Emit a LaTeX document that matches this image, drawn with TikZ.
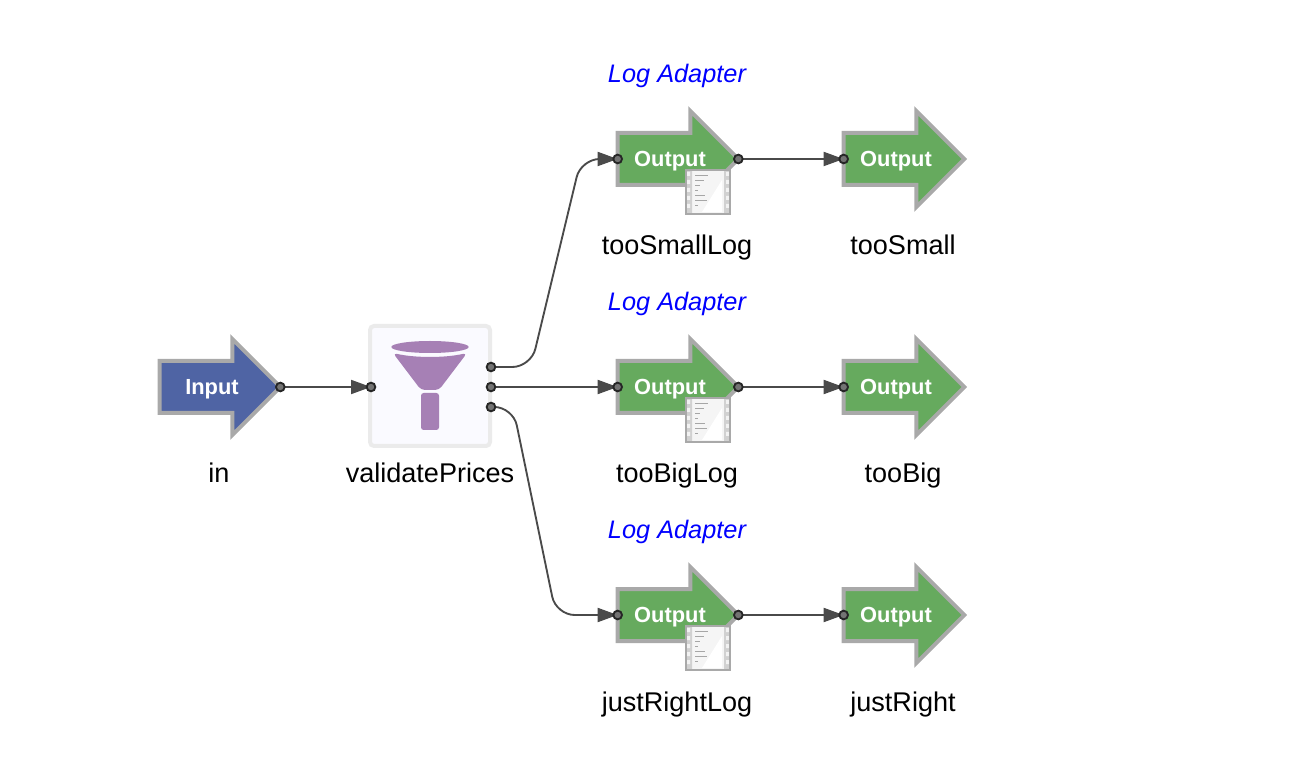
\documentclass[tikz,border=0pt]{standalone}
\usepackage{fontspec}
\setmainfont{Liberation Sans}
\usetikzlibrary{
  arrows.meta, % for the Triangle arrow tip
  shapes.arrows, % for the input/output arrows
  backgrounds, % to keep the connections under the ports
}
\definecolor{inblue}{HTML}{4F64A4}
\definecolor{outgreen}{HTML}{66AA5E}
\definecolor{rim}{HTML}{A9A9A9}
\definecolor{wire}{HTML}{4A4A4A}
\definecolor{funnel}{HTML}{A680B5}
\tikzset{
  endpoint/.style={ % style for the input/output arrows
    single arrow,draw=rim,line width=3pt,
    single arrow head extend=16.5pt,
    minimum height=90.5pt,minimum width=69pt,
    text=white,font=\fontsize{16.4}{16}\bfseries,
    inner sep=0pt,outer sep=0pt,
    text height=24pt,text depth=12pt,
    execute at begin node=\hspace*{7.5pt},
  },
  inend/.style={endpoint,fill=inblue},
  outend/.style={endpoint,fill=outgreen},
  port/.style={ % small connection points
    circle,draw=black!85,fill=black!55,line width=1.4pt,
    inner sep=0pt,minimum size=6.5pt,
  },
  conn/.style={ % style for the connections
    -{Triangle[length=15pt,width=10.5pt]},
    draw=wire,line width=1.4pt,
  },
  endname/.style={anchor=base,font=\fontsize{20.3}{20}\selectfont}, % text under each endpoint
  adapter/.style={font=\fontsize{19}{19}\itshape,text=blue}, % text over the log endpoints
  filterbox/.style={ % the filter with its funnel
    rectangle,rounded corners=3pt,draw=black!8,fill=blue!2,line width=3pt,
    minimum size=90pt,inner sep=0pt,
    path picture={
      \begin{scope}[shift={(path picture bounding box.center)}]
        \fill[funnel] (0,-39) ellipse [x radius=29pt,y radius=4.5pt];
        \fill[funnel] (-37,-33) .. controls (-15,-28) and (15,-28) .. (37,-33)
          -- (9,4) -- (-9,4) -- cycle;
        \fill[funnel,rounded corners=2pt] (-9,7) -- (9,7) -- (9,44) -- (-9,44) -- cycle;
      \end{scope}
    },
  },
  logicon/.style={ % the small film strip icon
    rectangle,draw=rim,fill=black!4,line width=1.5pt,
    minimum size=33pt,inner sep=0pt,
    path picture={
      \begin{scope}[shift={(path picture bounding box.center)}]
        \fill[black!18] (-23,-23) rectangle (-16,23) (16,-23) rectangle (23,23);
        \foreach \k in {-18,-10,...,18} {
          \fill[black!5] (-21,\k-2) rectangle (-18,\k+2) (18,\k-2) rectangle (21,\k+2);
        }
        \foreach \k/\w in {-17/13,-12/9,-7/5,-2/3,3/10,8/12,13/3} {
          \draw[black!35,line width=.6pt] (-13,\k) -- ++(\w,0);
        }
        \fill[white] (14,-12) -- (14,20) -- (-6,20) -- cycle;
      \end{scope}
    },
  },
}

\begin{document}
\begin{tikzpicture}[x=0.75pt,y=-0.75pt]
	\useasboundingbox (0,0) rectangle (1296,762);

	\node (in) [inend] at (207,387) {Input};
	\node (inOut) [port] at (in.tip) {};
	\node (inName) [endname] at (219,483) {in};

	\node (validatePrices) [filterbox] at (430,386) {};
	\node (validateIn) [port] at (371,387) {};
	\node (validateA) [port] at (491,367) {};
	\node (validateB) [port] at (491,387) {};
	\node (validateC) [port] at (491,407) {};
	\node (validateName) [endname] at (430,483) {validatePrices};

	\foreach \y/\nm/\lg in {159/tooSmall/tooSmallLog,387/tooBig/tooBigLog,615/justRight/justRightLog} {
		\node (\lg) [outend] at (665,\y) {Output};
		\node (\lg-icon) [logicon] at (708,\y+33) {};
		\node (\lg-in) [port] at (\lg.tail) {};
		\node (\lg-out) [port] at (\lg.tip) {};
		\node (\lg-adapter) [adapter] at (677,\y-83) {Log Adapter};
		\node (\lg-name) [endname] at (677,\y+96) {\lg};

		\node (\nm) [outend] at (891,\y) {Output};
		\node (\nm-in) [port] at (\nm.tail) {};
		\node (\nm-name) [endname] at (903,\y+96) {\nm};
	}

	\begin{pgfonlayer}{background}
		\draw [conn] (inOut.center) -- (validateIn.center);
		\draw [conn,rounded corners=14pt] (validateA.center) -- (531,367) -- (581,159) -- (tooSmallLog-in.center);
		\draw [conn] (validateB.center) -- (tooBigLog-in.center);
		\draw [conn,rounded corners=14pt] (validateC.center) -- (513,407) -- (556,615) -- (justRightLog-in.center);
		\foreach \lg/\nm in {tooSmallLog/tooSmall,tooBigLog/tooBig,justRightLog/justRight} {
			\draw [conn] (\lg-out.center) -- (\nm-in.center);
		}
	\end{pgfonlayer}
\end{tikzpicture}
\end{document}
